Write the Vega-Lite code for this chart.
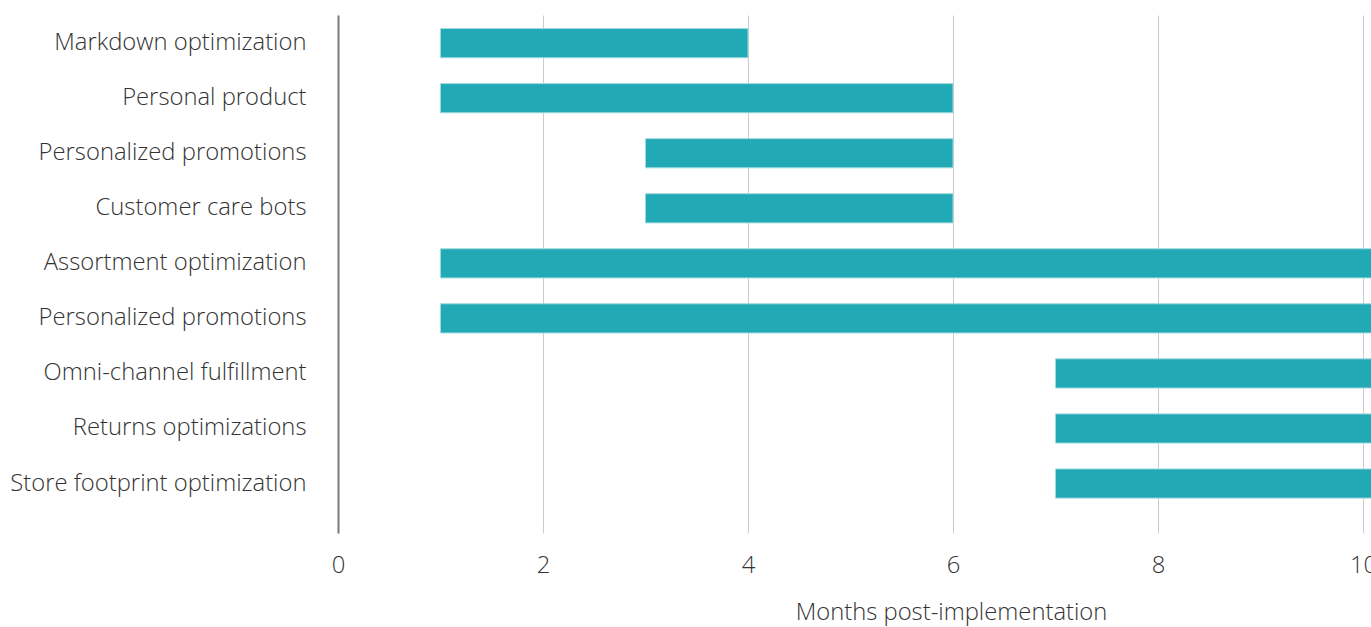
{
  "$schema": "https://vega.github.io/schema/vega-lite/v6.json",
  "autosize": "none",
  "width": 1033,
  "height": 518,
  "padding": {"left": 338, "top": 15, "right": 0, "bottom": 94},
  "background": "white",
  "config": {
    "view": {"stroke": null},
    "font": "Open Sans"
  },
  "data": {
    "values": [
      {"task": "Markdown optimization", "key": "Markdown optimization|1", "start": 1, "end": 4},
      {"task": "Personal product", "key": "Personal product|2", "start": 1, "end": 6},
      {"task": "Personalized promotions", "key": "Personalized promotions|3", "start": 3, "end": 6},
      {"task": "Customer care bots", "key": "Customer care bots|4", "start": 3, "end": 6},
      {"task": "Assortment optimization", "key": "Assortment optimization|5", "start": 1, "end": 12},
      {"task": "Personalized promotions", "key": "Personalized promotions|6", "start": 1, "end": 12},
      {"task": "Omni-channel fulfillment", "key": "Omni-channel fulfillment|7", "start": 7, "end": 12},
      {"task": "Returns optimizations", "key": "Returns optimizations|8", "start": 7, "end": 12},
      {"task": "Store footprint optimization", "key": "Store footprint optimization|9", "start": 7, "end": 12}
    ]
  },
  "mark": {"type": "bar", "color": "#21A9B5", "stroke": "#9fdade", "strokeWidth": 1, "clip": true},
  "encoding": {
    "y": {
      "field": "key",
      "type": "nominal",
      "sort": null,
      "scale": {"paddingInner": 0.47, "paddingOuter": 0.44, "align": 0.28},
      "axis": {
        "title": null,
        "domain": true,
        "domainColor": "#7a7a7a",
        "domainWidth": 2,
        "ticks": false,
        "grid": false,
        "labelExpr": "split(datum.value, '|')[0]",
        "labelFont": "Open Sans",
        "labelFontWeight": 300,
        "labelFontSize": 23.8,
        "labelColor": "#333333",
        "labelPadding": 32,
        "labelLimit": 400
      }
    },
    "x": {
      "field": "start",
      "type": "quantitative",
      "scale": {"domain": [0, 10.078], "nice": false, "zero": true},
      "axis": {
        "title": "Months post-implementation",
        "values": [0, 2, 4, 6, 8, 10],
        "domain": false,
        "ticks": false,
        "grid": true,
        "gridColor": "#cccccc",
        "gridWidth": 1,
        "labelFont": "Open Sans",
        "labelFontWeight": 300,
        "labelFontSize": 23.8,
        "labelColor": "#333333",
        "labelPadding": 20,
        "labelFlush": false,
        "labelOverlap": false,
        "titleFont": "Open Sans",
        "titleFontWeight": 300,
        "titleFontSize": 23.8,
        "titleColor": "#333333",
        "titlePadding": 24,
        "titleX": 613
      }
    },
    "x2": {"field": "end"}
  }
}
